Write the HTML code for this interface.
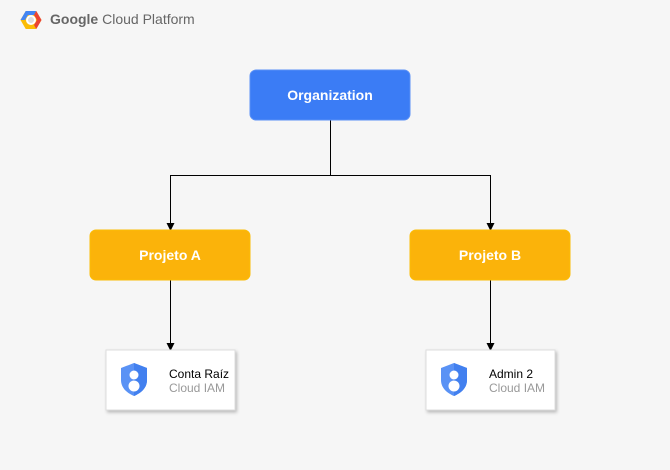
<!DOCTYPE html>
<html><head><meta charset="utf-8"><style>
html,body{margin:0;padding:0;background:#f6f6f6;}
svg{display:block;font-family:"Liberation Sans",Arial,sans-serif;}
</style></head><body>
<svg width="670" height="470" viewBox="0 0 670 470" xmlns="http://www.w3.org/2000/svg">
<defs>
<filter id="sh" x="-10%" y="-10%" width="130%" height="140%"><feDropShadow dx="1.5" dy="2" stdDeviation="1.5" flood-color="#000" flood-opacity="0.25"/></filter>
</defs>
<rect width="670" height="470" fill="#f6f6f6"/>
<!-- logo -->
<g transform="translate(31,20)">
<polygon points="-10.5,0 -5.25,-9 5.25,-9 10.5,0 5.25,9 -5.25,9" fill="#fbbc05"/>
<polygon points="-10.5,0 -5.25,-9 5.25,-9 3,-5 -3,-5 -6,0" fill="#4285f4"/>
<polygon points="5.25,-9 10.5,0 5.25,9 3,5 6,0 3,-5" fill="#ea4335"/>
<circle r="5" fill="#fff"/><circle r="3" fill="#ddd"/>
</g>
<text x="50" y="24" font-size="14" fill="#666"><tspan font-weight="bold">Google</tspan> Cloud Platform</text>
<!-- connectors -->
<g stroke="#000" stroke-width="1" fill="none">
<path d="M330.5,120 V175.5 H170.5 V224"/>
<path d="M330.5,175.5 H490.5 V224"/>
<path d="M170.5,280 V344"/>
<path d="M490.5,280 V344"/>
</g>
<g fill="#000">
<path d="M166.5,223 L174.5,223 L170.5,231 z"/>
<path d="M486.5,223 L494.5,223 L490.5,231 z"/>
<path d="M166.5,343 L174.5,343 L170.5,351 z"/>
<path d="M486.5,343 L494.5,343 L490.5,351 z"/>
</g>
<!-- nodes -->
<rect x="250" y="70" width="160" height="50" rx="6" fill="#3b7cf5" stroke="#5a90f5"/>
<text x="330" y="100" font-size="14" font-weight="bold" fill="#fff" text-anchor="middle">Organization</text>
<rect x="90" y="230" width="160" height="50" rx="6" fill="#fbb30a" stroke="#fbbc05"/>
<text x="170" y="260" font-size="14" font-weight="bold" fill="#fff" text-anchor="middle">Projeto A</text>
<rect x="410" y="230" width="160" height="50" rx="6" fill="#fbb30a" stroke="#fbbc05"/>
<text x="490" y="260" font-size="14" font-weight="bold" fill="#fff" text-anchor="middle">Projeto B</text>
<!-- cards -->
<g>
<rect x="106" y="350" width="129" height="60" fill="#fff" stroke="#ddd" filter="url(#sh)"/>
<path d="M134,363 L147,368 V380 C147,388 141,393 134,396 C127,393 121,388 121,380 V368 Z" fill="#5a92f5"/>
<path d="M134,363 L147,368 V380 C147,388 141,393 134,396 Z" fill="#4280ef"/>
<circle cx="134" cy="375" r="4.5" fill="#fff"/>
<circle cx="134" cy="386" r="5.5" fill="#fff"/>
<text x="169" y="378" font-size="12" fill="#000">Conta Raíz</text>
<text x="169" y="392" font-size="12" fill="#999">Cloud IAM</text>
</g>
<g transform="translate(320,0)">
<rect x="106" y="350" width="129" height="60" fill="#fff" stroke="#ddd" filter="url(#sh)"/>
<path d="M134,363 L147,368 V380 C147,388 141,393 134,396 C127,393 121,388 121,380 V368 Z" fill="#5a92f5"/>
<path d="M134,363 L147,368 V380 C147,388 141,393 134,396 Z" fill="#4280ef"/>
<circle cx="134" cy="375" r="4.5" fill="#fff"/>
<circle cx="134" cy="386" r="5.5" fill="#fff"/>
<text x="169" y="378" font-size="12" fill="#000">Admin 2</text>
<text x="169" y="392" font-size="12" fill="#999">Cloud IAM</text>
</g>
</svg>
</body></html>
